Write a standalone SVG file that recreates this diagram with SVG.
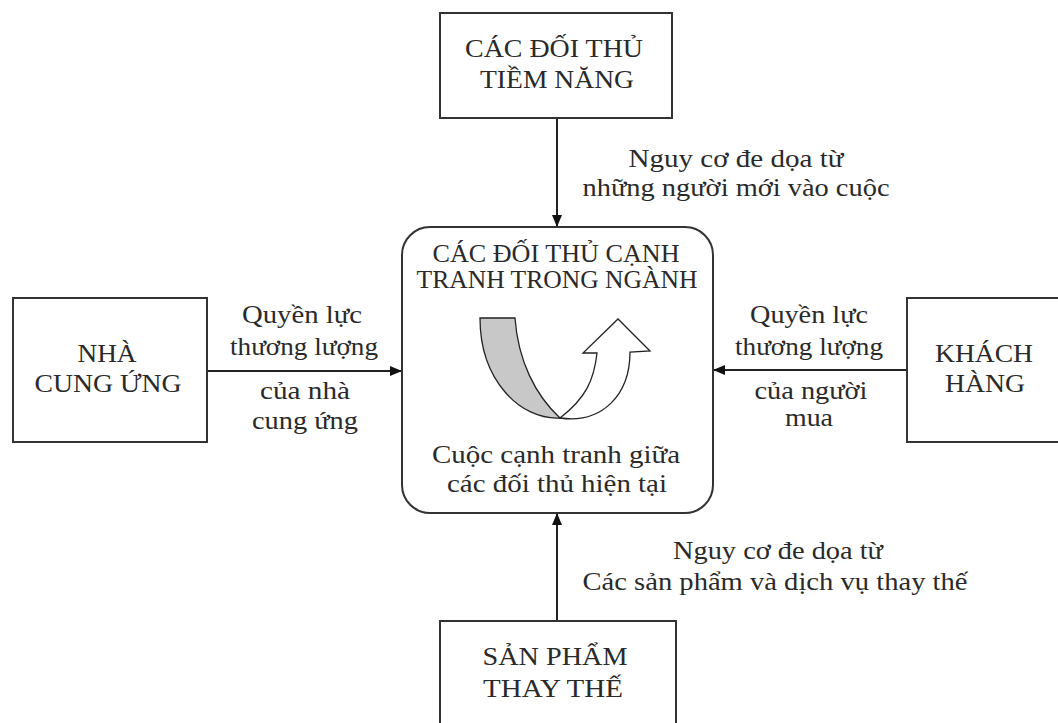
<svg xmlns="http://www.w3.org/2000/svg" width="1058" height="723" viewBox="0 0 1058 723">
<style>
.box{fill:#fff;stroke:#333;stroke-width:2}
.t{font-family:"Liberation Serif","Times New Roman",serif;font-size:25px;fill:#2a2a2a}
.ln{stroke:#222;stroke-width:2;fill:none}
</style>
<defs>
<marker id="ah" viewBox="0 0 12 10" refX="12" refY="5" markerWidth="12" markerHeight="10" markerUnits="userSpaceOnUse" orient="auto">
<path d="M0,0 L12,5 L0,10 Z" fill="#111"/>
</marker>
</defs>
<rect width="1058" height="723" fill="#fff"/>
<g id="connectors">
<line class="ln" x1="557" y1="118" x2="557" y2="227" marker-end="url(#ah)"/>
<line class="ln" x1="207" y1="371" x2="402" y2="371" marker-end="url(#ah)"/>
<line class="ln" x1="907" y1="370" x2="713" y2="370" marker-end="url(#ah)"/>
<line class="ln" x1="557" y1="621" x2="557" y2="513" marker-end="url(#ah)"/>
<text class="t" x="736" y="167" text-anchor="middle" textLength="215" lengthAdjust="spacingAndGlyphs">Nguy cơ đe dọa từ</text>
<text class="t" x="736" y="196" text-anchor="middle" textLength="307" lengthAdjust="spacingAndGlyphs">những người mới vào cuộc</text>
<text class="t" x="302" y="323" text-anchor="middle" textLength="120" lengthAdjust="spacingAndGlyphs">Quyền lực</text>
<text class="t" x="304" y="355" text-anchor="middle" textLength="148" lengthAdjust="spacingAndGlyphs">thương lượng</text>
<text class="t" x="305" y="399" text-anchor="middle" textLength="90" lengthAdjust="spacingAndGlyphs">của nhà</text>
<text class="t" x="305" y="429" text-anchor="middle" textLength="106" lengthAdjust="spacingAndGlyphs">cung ứng</text>
<text class="t" x="809" y="323" text-anchor="middle" textLength="118" lengthAdjust="spacingAndGlyphs">Quyền lực</text>
<text class="t" x="809" y="355" text-anchor="middle" textLength="148" lengthAdjust="spacingAndGlyphs">thương lượng</text>
<text class="t" x="811" y="399" text-anchor="middle" textLength="113" lengthAdjust="spacingAndGlyphs">của người</text>
<text class="t" x="809" y="426" text-anchor="middle" textLength="48" lengthAdjust="spacingAndGlyphs">mua</text>
<text class="t" x="778" y="559" text-anchor="middle" textLength="210" lengthAdjust="spacingAndGlyphs">Nguy cơ đe dọa từ</text>
<text class="t" x="775" y="590" text-anchor="middle" textLength="385" lengthAdjust="spacingAndGlyphs">Các sản phẩm và dịch vụ thay thế</text>
</g>
<g id="top">
<rect class="box" x="440" y="13" width="232" height="105"/>
<text class="t" x="554" y="57" text-anchor="middle" textLength="178" lengthAdjust="spacingAndGlyphs">CÁC ĐỐI THỦ</text>
<text class="t" x="557" y="88" text-anchor="middle" textLength="154" lengthAdjust="spacingAndGlyphs">TIỀM NĂNG</text>
</g>
<g id="left">
<rect class="box" x="13" y="298" width="194" height="144"/>
<text class="t" x="107" y="362" text-anchor="middle" textLength="59" lengthAdjust="spacingAndGlyphs">NHÀ</text>
<text class="t" x="108" y="392" text-anchor="middle" textLength="147" lengthAdjust="spacingAndGlyphs">CUNG ỨNG</text>
</g>
<g id="right">
<rect class="box" x="907" y="298" width="160" height="144"/>
<text class="t" x="984" y="362" text-anchor="middle" textLength="98" lengthAdjust="spacingAndGlyphs">KHÁCH</text>
<text class="t" x="985" y="392" text-anchor="middle" textLength="80" lengthAdjust="spacingAndGlyphs">HÀNG</text>
</g>
<g id="bottom">
<rect class="box" x="440" y="621" width="236" height="120"/>
<text class="t" x="555" y="665" text-anchor="middle" textLength="145" lengthAdjust="spacingAndGlyphs">SẢN PHẨM</text>
<text class="t" x="553" y="697" text-anchor="middle" textLength="140" lengthAdjust="spacingAndGlyphs">THAY THẾ</text>
</g>
<g id="center">
<rect class="box" x="402" y="227" width="311" height="286" rx="28" ry="28"/>
<text class="t" x="556" y="262" text-anchor="middle" textLength="247" lengthAdjust="spacingAndGlyphs">CÁC ĐỐI THỦ CẠNH</text>
<text class="t" x="557" y="288" text-anchor="middle" textLength="281" lengthAdjust="spacingAndGlyphs">TRANH TRONG NGÀNH</text>
<path d="M480,318 L515,318 C518,360 535,395 560,418 C520,420 480,380 480,318 Z" fill="#c8c8c8" stroke="#222" stroke-width="1.3"/>
<path d="M560,418 C586,398 594,380 597,353 L583,353 L618,319 L650,351 L630,352 C630,395 602,424 560,418 Z" fill="#fff" stroke="#222" stroke-width="1.3"/>
<text class="t" x="556" y="463" text-anchor="middle" textLength="248" lengthAdjust="spacingAndGlyphs">Cuộc cạnh tranh giữa</text>
<text class="t" x="557" y="492" text-anchor="middle" textLength="220" lengthAdjust="spacingAndGlyphs">các đối thủ hiện tại</text>
</g>
</svg>
